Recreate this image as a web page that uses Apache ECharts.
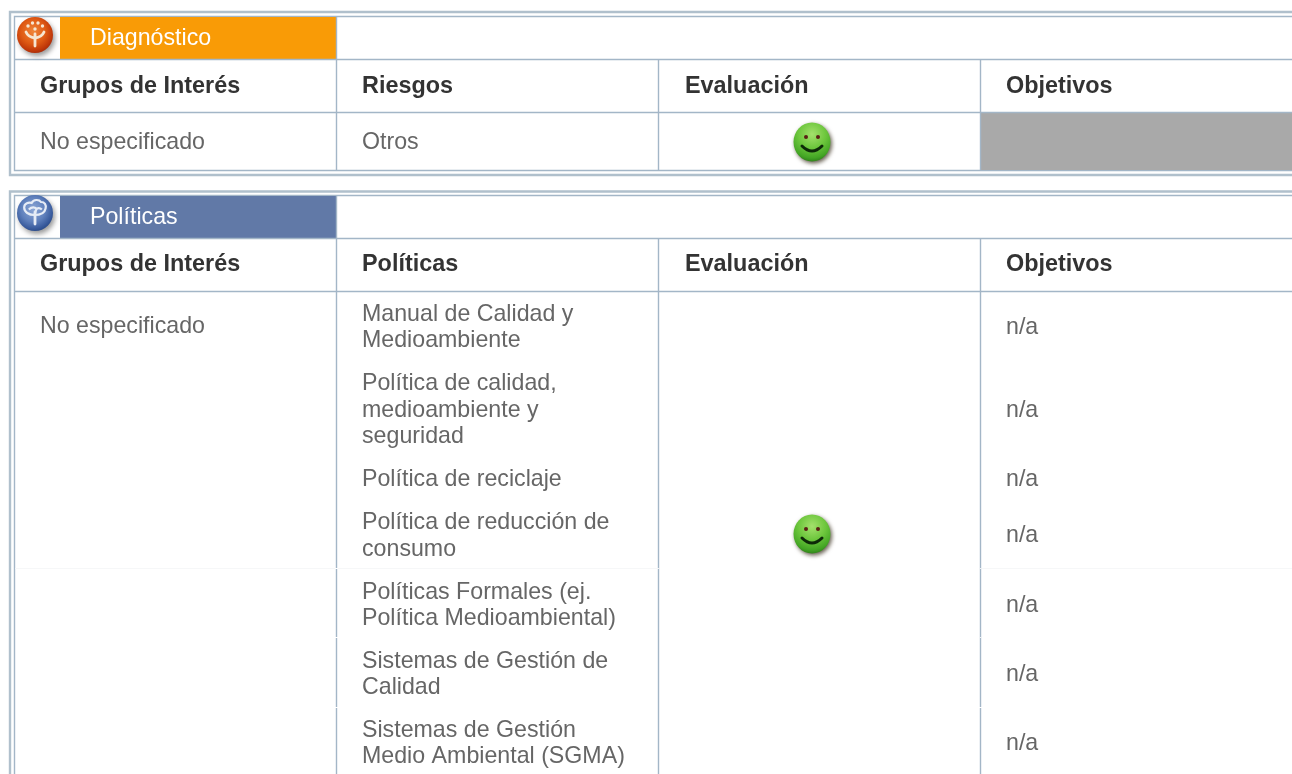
<!DOCTYPE html>
<html>
<head>
<meta charset="utf-8">
<style>html,body{margin:0;padding:0;background:#fff}#c{width:1292px;height:774px}</style>
<script src="https://cdn.jsdelivr.net/npm/echarts@6/dist/echarts.min.js"></script>
</head>
<body>
<div id="c"></div>
<script>
// ---- content ----
const sectionTitles = ['Diagnóstico', 'Políticas'];
const headersDiagnostico = ['Grupos de Interés', 'Riesgos', 'Evaluación', 'Objetivos'];
const headersPoliticas = ['Grupos de Interés', 'Políticas', 'Evaluación', 'Objetivos'];
const diagnosticoRow = ['No especificado', 'Otros'];
const politicasGroup = 'No especificado';
const politicasItems = [
  ['Manual de Calidad y', 'Medioambiente'],
  ['Política de calidad,', 'medioambiente y', 'seguridad'],
  ['Política de reciclaje'],
  ['Política de reducción de', 'consumo'],
  ['Políticas Formales (ej.', 'Política Medioambiental)'],
  ['Sistemas de Gestión de', 'Calidad'],
  ['Sistemas de Gestión', 'Medio Ambiental (SGMA)']
];
const politicasObjetivos = ['n/a', 'n/a', 'n/a', 'n/a', 'n/a', 'n/a', 'n/a'];

// ---- layout (pixel scale of the hidden axes) ----
const W = 1292, H = 774;
const textX = [40, 362, 685, 1006];
const LINE = '#a3b6c7', OUTER = '#b0c0cc', FAINT = '#f6f7f8';
const FS = 23.2, FSB = 23.4, LH = 26.6, LW = 1.4;
const rowCenters = [327.5, 410.5, 479.5, 536, 605.5, 674.5, 743.5];

const rects = [
  {x:10, y:12, x2:W+4, y2:175, fill:'#fff', stroke:OUTER, lw:2.4},
  {x:14.5, y:16.5, x2:W+4, y2:170.5, fill:'#fff', stroke:LINE, lw:LW},
  {x:10, y:191.5, x2:W+4, y2:H+6, fill:'#fff', stroke:OUTER, lw:2.4},
  {x:14.5, y:195.5, x2:W+4, y2:H+6, fill:'#fff', stroke:LINE, lw:LW},
  {x:60, y:17, x2:336, y2:59, fill:'#f99b06'},
  {x:60, y:196, x2:336, y2:238, fill:'#6179a7'},
  {x:981, y:113, x2:W, y2:170, fill:'#a9a9a9'}
];
const lines = [
  [15, 59.5, W, 59.5, LINE, LW], [15, 112.5, W, 112.5, LINE, LW],
  [15, 238.5, W, 238.5, LINE, LW], [15, 291.5, W, 291.5, LINE, LW],
  [336.5, 17, 336.5, 170, LINE, LW], [658.5, 60, 658.5, 170, LINE, LW], [980.5, 60, 980.5, 170, LINE, LW],
  [336.5, 196, 336.5, H, LINE, LW], [658.5, 239, 658.5, H, LINE, LW], [980.5, 239, 980.5, H, LINE, LW],
  [15, 568.5, 658, 568.5, FAINT, 1], [982, 568.5, W, 568.5, FAINT, 1],
  [335, 568.5, 338, 568.5, '#fff', 1], [658, 568.5, 660, 568.5, '#eef1f4', 1], [979, 568.5, 982, 568.5, '#eef1f4', 1],
  [335, 637.5, 338, 637.5, '#fff', 1], [979, 637.5, 982, 637.5, '#eef1f4', 1],
  [335, 707.5, 338, 707.5, '#fff', 1], [979, 707.5, 983, 707.5, '#fff', 1]
];

// ---- text table built from the arrays ----
const texts = [];
function addText(str, x, y, color, bold) { texts.push({value:[x, y], str, color, bold}); }
addText(sectionTitles[0], 90, 38.5, '#fff');
addText(sectionTitles[1], 90, 217.5, '#fff');
headersDiagnostico.forEach((t, i) => addText(t, textX[i], 86.5, '#333', true));
headersPoliticas.forEach((t, i) => addText(t, textX[i], 264.5, '#333', true));
diagnosticoRow.forEach((t, i) => addText(t, textX[i], 142.5, '#666'));
addText(politicasGroup, textX[0], 326.5, '#666');
politicasItems.forEach((ls, r) => ls.forEach((t, k) =>
  addText(t, textX[1], rowCenters[r] + (k - (ls.length - 1) / 2) * LH, '#666')));
politicasObjetivos.forEach((t, r) => addText(t, textX[3], rowCenters[r], '#666'));

// ---- icons ----
function grad(stops, x, y, r) {
  return {type:'radial', x, y, r, colorStops: stops.map(([offset, color]) => ({offset, color}))};
}
function logo(api, cx, cy, kind) {
  const [x, y] = api.coord([cx, cy]);
  const orange = kind === 'o';
  const ch = [{
    type:'circle', shape:{cx:x, cy:y, r:18},
    style:{
      fill: grad(orange
        ? [[0,'#f0863a'],[0.55,'#df5a14'],[0.85,'#c23a0a'],[1,'#a82c0a']]
        : [[0,'#8ea8d6'],[0.55,'#5f80bc'],[0.85,'#3a5c9e'],[1,'#2a4a88']], 0.45, 0.4, 0.62),
      shadowBlur:5, shadowOffsetX:2, shadowOffsetY:3, shadowColor:'rgba(70,70,70,.55)'
    }
  }];
  const c = orange ? '#f6e6d2' : '#e6ecf6';
  const w = {stroke:c, lineWidth:2.8, fill:null, lineCap:'round'};
  ch.push({type:'line', shape:{x1:x, y1:y-1, x2:x, y2:y+11}, style:w});
  if (orange) {
    ch.push({type:'bezierCurve', shape:{x1:x-9, y1:y-3, x2:x, y2:y+3, cpx1:x-7, cpy1:y+2}, style:w});
    ch.push({type:'bezierCurve', shape:{x1:x+9, y1:y-3, x2:x, y2:y+3, cpx1:x+7, cpy1:y+2}, style:w});
    [[-7,-9],[-2.5,-12],[3,-12],[7.5,-9],[0,-6]].forEach(([dx, dy]) =>
      ch.push({type:'circle', shape:{cx:x+dx, cy:y+dy, r:1.7}, style:{fill:c}}));
  } else {
    ch.push({type:'path', shape:{
      pathData:'M0 14 C-6 14 -11 11 -11 6 C-11 1 -6 0 -3 1 C-1 -3 5 -3 7 0 C11 0 13 3 12 7 C11 12 6 14 0 14 M-6 8 C-3 5 1 5 3 8 M0 14 L2 8 C3 6 6 6 8 8',
      x:x-12, y:y-13, width:24, height:15
    }, style:{stroke:c, lineWidth:2.2, fill:null}});
  }
  return {type:'group', children:ch};
}
function smiley(api, cx, cy) {
  const [x, y] = api.coord([cx, cy]);
  return {type:'group', children:[
    {type:'ellipse', shape:{cx:x, cy:y, rx:18.5, ry:19.5}, style:{
      fill: grad([[0,'#a4e06c'],[0.5,'#6cc63c'],[0.85,'#43a524'],[1,'#2f7f1a']], 0.5, 0.3, 0.75),
      shadowBlur:4, shadowOffsetX:1.5, shadowOffsetY:2, shadowColor:'rgba(50,40,20,.75)'
    }},
    {type:'circle', shape:{cx:x-6, cy:y-5, r:2}, style:{fill:'#5a1f14'}},
    {type:'circle', shape:{cx:x+6, cy:y-5, r:2}, style:{fill:'#5a1f14'}},
    {type:'bezierCurve', shape:{x1:x-10, y1:y+4, x2:x+10, y2:y+4, cpx1:x, cpy1:y+14},
      style:{stroke:'#0d2a08', lineWidth:3, fill:null, lineCap:'round'}}
  ]};
}
const icons = [
  {value:[35, 35], kind:'o'}, {value:[35, 213], kind:'b'},
  {value:[812, 142], kind:'s'}, {value:[812, 534], kind:'s'}
];

// ---- chart ----
const chart = echarts.init(document.getElementById('c'), null, {renderer:'canvas'});
function rectItem(api, r) {
  const a = api.coord([r.x, r.y]), b = api.coord([r.x2, r.y2]);
  return {type:'rect', shape:{x:a[0], y:a[1], width:b[0]-a[0], height:b[1]-a[1]},
    style:{fill:r.fill, stroke:r.stroke || null, lineWidth:r.lw || 0}};
}
chart.setOption({
  animation:false,
  backgroundColor:'#fff',
  tooltip:{show:false},
  grid:{left:0, top:0, width:W, height:H},
  xAxis:{type:'value', min:0, max:W, show:false},
  yAxis:{type:'value', min:0, max:H, inverse:true, show:false},
  series:[
    {type:'custom', silent:true, clip:false, z:1, data:rects.map(r => [r.x, r.y]),
      renderItem:(p, api) => rectItem(api, rects[p.dataIndex])},
    {type:'custom', silent:true, clip:false, z:2, data:lines.map(l => [l[0], l[1]]),
      renderItem:(p, api) => {
        const l = lines[p.dataIndex];
        const a = api.coord([l[0], l[1]]), b = api.coord([l[2], l[3]]);
        return {type:'line', shape:{x1:a[0], y1:a[1], x2:b[0], y2:b[1]}, style:{stroke:l[4], lineWidth:l[5]}};
      }},
    {type:'custom', silent:true, clip:false, z:3, data:icons.map(i => i.value),
      renderItem:(p, api) => {
        const it = icons[p.dataIndex];
        return it.kind === 's' ? smiley(api, it.value[0], it.value[1]) : logo(api, it.value[0], it.value[1], it.kind);
      }},
    {type:'custom', silent:true, clip:false, z:4, data:texts.map(t => t.value),
      renderItem:(p, api) => {
        const t = texts[p.dataIndex];
        const c = api.coord(t.value);
        return {type:'text', x:c[0], y:c[1], style:{
          text:t.str, fill:t.color, align:'left', verticalAlign:'middle',
          font:(t.bold ? 'bold ' + FSB : FS) + 'px "Liberation Sans", Arial, sans-serif'
        }};
      }}
  ]
});
</script>
</body>
</html>
